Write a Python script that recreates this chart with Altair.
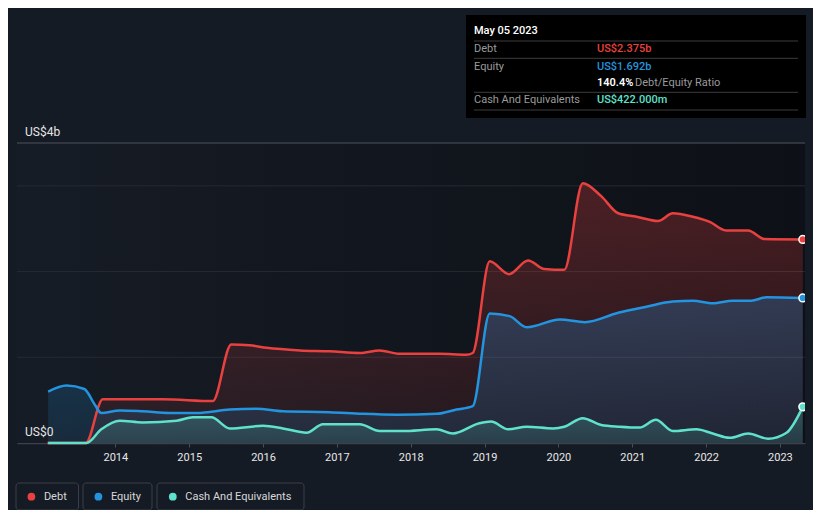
import altair as alt
import pandas as pd

# ---- data (US$ billions, fractional years) ----
debt_years = [2013.08, 2013.60, 2013.83, 2014.64, 2015.32, 2015.57, 2015.82, 2016.05, 2016.50,
              2016.90, 2017.31, 2017.58, 2017.85, 2018.39, 2018.75, 2018.84, 2019.07, 2019.33,
              2019.59, 2019.81, 2020.08, 2020.33, 2020.58, 2020.81, 2021.06, 2021.35, 2021.55,
              2021.82, 2022.05, 2022.27, 2022.57, 2022.79, 2023.31]
debt_values = [0.0, 0.0, 0.51, 0.51, 0.49, 1.15, 1.14, 1.11, 1.08,
               1.07, 1.05, 1.08, 1.04, 1.04, 1.03, 1.05, 2.12, 1.97,
               2.13, 2.03, 2.02, 3.03, 2.88, 2.68, 2.64, 2.59, 2.68,
               2.64, 2.58, 2.48, 2.48, 2.38, 2.375]

equity_years = [2013.09, 2013.34, 2013.58, 2013.72, 2013.81, 2014.06, 2014.37, 2014.74, 2015.10,
                2015.55, 2015.91, 2016.27, 2016.90, 2017.35, 2017.81, 2018.35, 2018.62, 2018.84,
                2019.07, 2019.34, 2019.57, 2020.02, 2020.36, 2020.81, 2021.19, 2021.55, 2021.82,
                2022.09, 2022.36, 2022.61, 2022.82, 2023.31]
equity_values = [0.60, 0.67, 0.63, 0.45, 0.35, 0.38, 0.37, 0.35, 0.35,
                 0.39, 0.40, 0.37, 0.36, 0.34, 0.33, 0.34, 0.39, 0.43,
                 1.51, 1.48, 1.35, 1.44, 1.41, 1.52, 1.59, 1.65, 1.66,
                 1.63, 1.66, 1.66, 1.70, 1.692]

cash_years = [2013.09, 2013.61, 2013.81, 2014.06, 2014.37, 2014.83, 2015.05, 2015.30, 2015.55,
              2016.00, 2016.27, 2016.59, 2016.81, 2017.31, 2017.58, 2017.89, 2018.35, 2018.57,
              2018.93, 2019.09, 2019.32, 2019.57, 2019.93, 2020.08, 2020.33, 2020.58, 2020.83,
              2021.10, 2021.32, 2021.55, 2021.87, 2022.09, 2022.32, 2022.57, 2022.84, 2023.09,
              2023.31]
cash_values = [0.0, 0.0, 0.16, 0.26, 0.24, 0.26, 0.30, 0.30, 0.17,
               0.20, 0.17, 0.12, 0.22, 0.22, 0.14, 0.14, 0.16, 0.11,
               0.23, 0.25, 0.16, 0.19, 0.17, 0.19, 0.29, 0.21, 0.19,
               0.18, 0.27, 0.14, 0.16, 0.11, 0.06, 0.11, 0.05, 0.12,
               0.422]

series_names = ["Debt", "Equity", "Cash And Equivalents"]
series_colors = ["#e8413f", "#2394df", "#5fe1cc"]
series_rgb = ["232,65,63", "35,148,224", "95,225,204"]
year_ticks = list(range(2014, 2024))
grid_levels = [1, 2, 3]
y_labels = ["US$0", "US$4b"]
y_label_levels = [0, 3.5]

tooltip_date = "May 05 2023"
tooltip_rows = ["Debt", "Equity", "Cash And Equivalents"]
tooltip_vals = ["US$2.375b", "US$1.692b", "US$422.000m"]
ratio_text = "140.4%"
ratio_label = "Debt/Equity Ratio"

X_DOMAIN = [2012.668, 2023.34]
Y_DOMAIN = [0, 3.5]
BG = "#151b24"
FONT = "Roboto"

x_axis = alt.Axis(values=year_ticks, format="d", labelColor="#e8e8e8", labelFont=FONT,
                  labelFontSize=11, tickColor="#4a4f57", tickSize=4, domainColor="#3d424a",
                  domainWidth=1.5, grid=False, title=None, labelPadding=4)
xs = alt.Scale(domain=X_DOMAIN, nice=False, zero=False)
ys = alt.Scale(domain=Y_DOMAIN, nice=False, zero=False)


def X(field="year"):
    return alt.X(f"{field}:Q", scale=xs, axis=x_axis)


def Y(field="value"):
    return alt.Y(f"{field}:Q", scale=ys, axis=None)


def frame(years, values):
    return pd.DataFrame({"year": years, "value": values})


debt_df = frame(debt_years, debt_values)
equity_df = frame(equity_years, equity_values)
cash_df = frame(cash_years, cash_values)

one = pd.DataFrame({"a": [0]})

# background gradient of the plot area
bg_df = pd.DataFrame({"year": [X_DOMAIN[0]], "year2": [X_DOMAIN[1]],
                      "value": [Y_DOMAIN[0]], "value2": [Y_DOMAIN[1]]})
bg = alt.Chart(bg_df).mark_rect(
    color=alt.Gradient(gradient="linear", x1=0, x2=1, y1=0, y2=0,
                       stops=[alt.GradientStop(color="#161c25", offset=0),
                              alt.GradientStop(color="#0d1016", offset=1)])
).encode(x=X(), x2="year2:Q", y=Y(), y2="value2:Q")

grid = alt.Chart(pd.DataFrame({"value": grid_levels})).mark_rule(
    color="#262a31", strokeWidth=1).encode(y=Y())
top_line = alt.Chart(pd.DataFrame({"value": [Y_DOMAIN[1]]})).mark_rule(
    color="#3b4048", strokeWidth=1.5).encode(y=Y())

layers = [bg, grid, top_line]

opac = [(0.28, 0.08), (0.27, 0.13), (0.22, 0.12)]
for df, rgb, (o1, o2) in zip([debt_df, equity_df, cash_df], series_rgb, opac):
    grad = alt.Gradient(gradient="linear", x1=0, x2=0, y1=0, y2=1,
                        stops=[alt.GradientStop(color=f"rgba({rgb},{o1})", offset=0),
                               alt.GradientStop(color=f"rgba({rgb},{o2})", offset=1)])
    layers.append(alt.Chart(df).mark_area(fill=grad, interpolate="monotone")
                  .encode(x=X(), y=Y()))
for df, col in zip([debt_df, equity_df, cash_df], series_colors):
    layers.append(alt.Chart(df).mark_line(color=col, strokeWidth=2.5, interpolate="monotone")
                  .encode(x=X(), y=Y()))
for df, col in zip([debt_df, equity_df, cash_df], series_colors):
    layers.append(alt.Chart(df.tail(1)).mark_point(
        filled=True, fill=col, stroke="white", strokeWidth=1.5, size=60, opacity=1, clip=True)
        .encode(x=X(), y=Y()))

# y labels
ylab_df = pd.DataFrame({"label": y_labels, "value": y_label_levels, "year": [X_DOMAIN[0]] * 2})
layers.append(alt.Chart(ylab_df).mark_text(
    align="left", baseline="middle", dx=8, dy=-11, font=FONT, fontSize=12, color="#e6e6e6")
    .encode(x=X(), y=Y(), text="label:N"))


def txt(s, x, y, color, size=11, weight="normal", align="left"):
    return alt.Chart(one).mark_text(text=s, align=align, baseline="middle", font=FONT,
                                    fontSize=size, fontWeight=weight, color=color).encode(
        x=alt.value(x), y=alt.value(y))


def hline(x1, x2, y, color="#3c3c3c"):
    return alt.Chart(one).mark_rule(color=color, strokeWidth=1).encode(
        x=alt.value(x1), x2=alt.value(x2), y=alt.value(y))


# tooltip panel
layers.append(alt.Chart(one).mark_rect(color="#000000").encode(
    x=alt.value(449), x2=alt.value(789), y=alt.value(-128), y2=alt.value(-25)))
layers.append(txt(tooltip_date, 457, -112, "#ffffff", 11, 500))
for yy in [-102, -84.7, -50.7, -33]:
    layers.append(hline(457, 781, yy))
row_y = [-94.5, -76.5, -43]
for lab, val, yy, col in zip(tooltip_rows, tooltip_vals, row_y, series_colors):
    layers.append(txt(lab, 457, yy, "#9a9a9a", 11))
    layers.append(txt(val, 580, yy, col, 11, 500))
layers.append(txt(ratio_text, 580, -59.7, "#ffffff", 11, 600))
layers.append(txt(ratio_label, 618, -59.7, "#9a9a9a", 11))

# legend
box_x = [(-1, 61.5), (66, 135), (140, 287)]
dot_x = [14.4, 81.4, 155.8]
for (bx1, bx2), dx, name, col in zip(box_x, dot_x, series_names, series_colors):
    layers.append(alt.Chart(one).mark_rect(fill=BG, stroke="#3a3f47", strokeWidth=1,
                                           cornerRadius=3).encode(
        x=alt.value(bx1), x2=alt.value(bx2), y=alt.value(340), y2=alt.value(367)))
    layers.append(alt.Chart(one).mark_point(filled=True, fill=col, size=60, opacity=1,
                                            shape="circle").encode(
        x=alt.value(dx), y=alt.value(353.7)))
    layers.append(txt(name, dx + 12.5, 353.7, "#d8d8d8", 11))

chart = alt.layer(*layers).properties(
    width=788, height=300,
    padding={"left": 9, "top": 135, "right": 8, "bottom": 67},
    autosize=alt.AutoSizeParams(type="none"),
    background=BG,
).configure_view(stroke=None)

chart.save("out.html", embed_options={"renderer": "svg", "actions": False})
